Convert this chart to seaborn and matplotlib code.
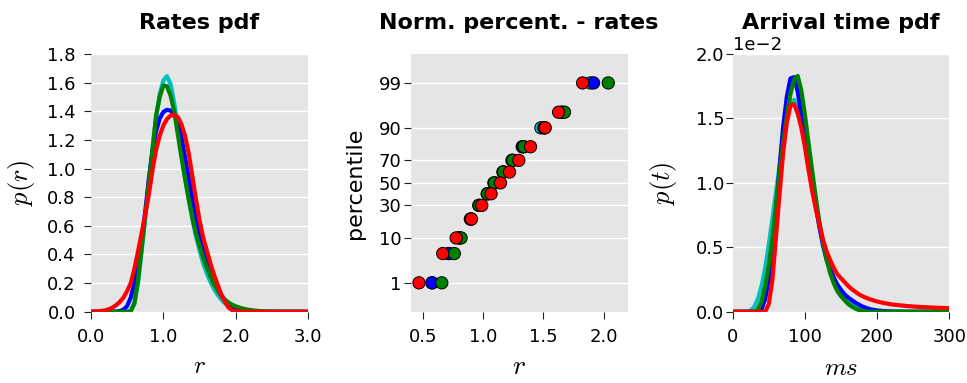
import numpy as np
import pandas as pd
import matplotlib
matplotlib.use('Agg')
import matplotlib.pyplot as plt
from matplotlib.ticker import FormatStrFormatter
import seaborn as sns
from statistics import NormalDist

# ---- data ----
series = ['c', 'b', 'g', 'r']
colors = {'c': '#00BFBF', 'b': '#0000FF', 'g': '#008000', 'r': '#FF0000'}

# rates pdf
r_grid = [0.0, 0.1, 0.2, 0.25, 0.3, 0.35, 0.4, 0.45, 0.5, 0.55, 0.6, 0.65, 0.7, 0.75,
          0.8, 0.85, 0.9, 0.95, 1.0, 1.05, 1.1, 1.15, 1.2, 1.25, 1.3, 1.35, 1.4, 1.45,
          1.5, 1.55, 1.6, 1.65, 1.7, 1.75, 1.8, 1.85, 1.9, 1.95, 2.0, 2.1, 2.2, 2.3,
          2.4, 2.5, 2.7, 3.0]
rate_c = [0, 0, 0, 0, 0, 0, 0, 0, 0, 0.005, 0.055, 0.2, 0.42, 0.66,
          0.9, 1.14, 1.36, 1.52, 1.615, 1.645, 1.59, 1.46, 1.29, 1.11, 0.94, 0.79, 0.65, 0.53,
          0.43, 0.34, 0.27, 0.21, 0.16, 0.12, 0.085, 0.06, 0.042, 0.03, 0.02, 0.01, 0.004, 0.001,
          0, 0, 0, 0]
rate_b = [0, 0, 0, 0, 0, 0.001, 0.005, 0.015, 0.04, 0.1, 0.2, 0.33, 0.49, 0.7,
          0.93, 1.12, 1.26, 1.35, 1.395, 1.41, 1.405, 1.375, 1.32, 1.22, 1.08, 0.94, 0.8, 0.67,
          0.55, 0.45, 0.37, 0.3, 0.24, 0.18, 0.12, 0.08, 0.05, 0.03, 0.018, 0.006, 0.001, 0,
          0, 0, 0, 0]
rate_g = [0, 0, 0, 0, 0, 0, 0, 0, 0, 0.005, 0.06, 0.22, 0.44, 0.67,
          0.9, 1.13, 1.37, 1.5, 1.58, 1.575, 1.51, 1.4, 1.24, 1.08, 0.93, 0.79, 0.66, 0.55,
          0.46, 0.38, 0.31, 0.25, 0.19, 0.15, 0.11, 0.085, 0.065, 0.05, 0.038, 0.022, 0.012, 0.006,
          0.003, 0.001, 0, 0]
rate_r = [0, 0.003, 0.01, 0.018, 0.03, 0.047, 0.07, 0.1, 0.145, 0.2, 0.3, 0.42, 0.55, 0.68,
          0.82, 0.99, 1.13, 1.23, 1.3, 1.345, 1.37, 1.375, 1.36, 1.31, 1.23, 1.11, 0.95, 0.79,
          0.64, 0.52, 0.43, 0.34, 0.26, 0.19, 0.12, 0.07, 0.03, 0.012, 0.004, 0.001, 0, 0,
          0, 0, 0, 0]

# normal percentiles of the rates
pct = [1, 5, 10, 20, 30, 40, 50, 60, 70, 80, 90, 95, 99]
pct_c = [0.58, 0.72, 0.80, 0.895, 0.965, 1.035, 1.09, 1.165, 1.24, 1.325, 1.48, 1.65, 1.89]
pct_b = [0.575, 0.713, 0.805, 0.90, 0.97, 1.04, 1.10, 1.17, 1.245, 1.33, 1.505, 1.66, 1.917]
pct_g = [0.658, 0.762, 0.818, 0.90, 0.968, 1.037, 1.095, 1.17, 1.247, 1.341, 1.51, 1.676, 2.039]
pct_r = [0.469, 0.666, 0.777, 0.904, 0.99, 1.067, 1.145, 1.22, 1.297, 1.394, 1.516, 1.627, 1.826]

# arrival time pdf
t_grid = [0, 10, 20, 25, 30, 35, 40, 45, 50, 55, 60, 65, 70, 75, 80, 85, 90, 95, 100,
          105, 110, 115, 120, 125, 130, 135, 140, 145, 150, 155, 160, 165, 170, 175,
          180, 185, 190, 195, 200, 210, 220, 240, 260, 280, 300]
time_c = [0, 0, 0, 0.0001, 0.0004, 0.001, 0.002, 0.0034, 0.0052, 0.0072, 0.0093, 0.0113, 0.0133,
          0.015, 0.0161, 0.01645, 0.0161, 0.0148, 0.0132, 0.0116, 0.01, 0.0083, 0.0067, 0.0052,
          0.004, 0.0031, 0.0024, 0.0018, 0.0014, 0.001, 0.00075, 0.00055, 0.0004, 0.00028,
          0.0002, 0.00013, 0.00008, 0.00005, 0.00003, 0.00001, 0, 0, 0, 0, 0]
time_b = [0, 0, 0, 0, 0, 0, 0.0002, 0.001, 0.0025, 0.0046, 0.0078, 0.0113, 0.0144,
          0.0167, 0.0181, 0.0182, 0.0171, 0.0153, 0.0135, 0.0118, 0.0102, 0.0083, 0.0066, 0.0052,
          0.0041, 0.0033, 0.00265, 0.0021, 0.0017, 0.00135, 0.0011, 0.0009, 0.0007, 0.00055,
          0.0004, 0.0003, 0.0002, 0.00015, 0.0001, 0.00005, 0.00002, 0, 0, 0, 0]
time_g = [0, 0, 0, 0, 0, 0.0002, 0.0008, 0.002, 0.0036, 0.0057, 0.0083, 0.0109, 0.0132,
          0.0152, 0.0169, 0.018, 0.0183, 0.0172, 0.0153, 0.0131, 0.011, 0.0089, 0.007, 0.0054,
          0.0041, 0.003, 0.0022, 0.0016, 0.0012, 0.0009, 0.0006, 0.0004, 0.00025, 0.00013,
          0.00006, 0.00002, 0, 0, 0, 0, 0, 0, 0, 0, 0]
time_r = [0, 0, 0, 0, 0, 0, 0, 0, 0.0006, 0.0025, 0.0058, 0.0092, 0.0124,
          0.0147, 0.016, 0.0161, 0.0154, 0.0143, 0.0128, 0.011, 0.0094, 0.008, 0.0068, 0.0056,
          0.0047, 0.004, 0.0034, 0.0029, 0.0026, 0.0023, 0.002, 0.00175, 0.00155, 0.00135,
          0.0012, 0.00108, 0.00097, 0.00088, 0.0008, 0.00067, 0.00057, 0.00045, 0.00037,
          0.00032, 0.00028]

rates = pd.DataFrame({'r': r_grid * 4,
                      'p': rate_c + rate_b + rate_g + rate_r,
                      's': [k for k in series for _ in r_grid]})
percs = pd.DataFrame({'x': pct_c + pct_b + pct_g + pct_r,
                      'y': pct * 4,
                      's': [k for k in series for _ in pct]})
times = pd.DataFrame({'t': t_grid * 4,
                      'p': time_c + time_b + time_g + time_r,
                      's': [k for k in series for _ in t_grid]})

# ---- style ----
sns.set_style('darkgrid')
plt.rcParams.update({
    'axes.facecolor': '#E5E5E5',
    'grid.color': 'white',
    'grid.linewidth': 1.0,
    'xtick.bottom': True,
    'ytick.left': True,
    'xtick.direction': 'out',
    'ytick.direction': 'out',
    'xtick.major.size': 5,
    'ytick.major.size': 5,
    'xtick.major.pad': 7,
    'xtick.color': '#222222',
    'ytick.color': '#222222',
    'xtick.labelcolor': 'black',
    'ytick.labelcolor': 'black',
    'xtick.labelsize': 13,
    'ytick.labelsize': 13,
    'axes.labelsize': 18,
    'axes.labelcolor': 'black',
    'text.color': 'black',
    'mathtext.fontset': 'cm',
})
plt.rcParams['font.family'] = ['DejaVu Sans']

fig = plt.figure(figsize=(9.67, 3.83), dpi=100)
ax1 = fig.add_axes([0.0941, 0.186, 0.2244, 0.673])
ax2 = fig.add_axes([0.4247, 0.186, 0.2244, 0.673])
ax3 = fig.add_axes([0.7577, 0.186, 0.2240, 0.673])

for ax in (ax1, ax2, ax3):
    for sp in ax.spines.values():
        sp.set_visible(False)
    ax.xaxis.grid(False)

title_kw = dict(fontsize=16, fontweight='bold', color='black', pad=18)

# rates pdf
sns.lineplot(data=rates, x='r', y='p', hue='s', hue_order=series, palette=colors,
             linewidth=3, legend=False, ax=ax1)
ax1.set_xlim(0, 3)
ax1.set_ylim(0, 1.8)
ax1.set_xticks([0, 1, 2, 3])
ax1.xaxis.set_major_formatter(FormatStrFormatter('%.1f'))
ax1.set_yticks(np.arange(0, 1.81, 0.2))
ax1.yaxis.set_major_formatter(FormatStrFormatter('%.1f'))
ax1.tick_params(axis='y', pad=6)
ax1.set_xlabel('$r$', labelpad=5.5)
ax1.set_ylabel('$p(r)$', fontsize=19, labelpad=7)
ax1.set_title('Rates pdf', **title_kw)

# normal-probability percentiles
_nd = NormalDist()


def to_z(p):
    p = np.clip(np.asarray(p, dtype=float), 1e-6, 100 - 1e-6)
    return np.vectorize(lambda v: _nd.inv_cdf(v / 100.0), otypes=[float])(p)


def from_z(z):
    z = np.asarray(z, dtype=float)
    return np.vectorize(lambda v: _nd.cdf(v) * 100.0, otypes=[float])(z)


ax2.set_yscale('function', functions=(to_z, from_z))
sns.scatterplot(data=percs, x='x', y='y', hue='s', hue_order=series, palette=colors,
                s=78, edgecolor='black', linewidth=0.7, legend=False, ax=ax2)
ax2.set_xlim(0.4, 2.2)
ax2.set_ylim(0.135, 99.865)
ax2.set_xticks([0.5, 1.0, 1.5, 2.0])
ax2.set_yticks([1, 10, 30, 50, 70, 90, 99])
ax2.set_yticklabels(['1', '10', '30', '50', '70', '90', '99'])
ax2.minorticks_off()
ax2.tick_params(axis='y', pad=1.5)
ax2.set_xlabel('$r$', fontsize=20, labelpad=4)
ax2.set_ylabel('percentile', fontsize=16, labelpad=10)
ax2.set_title('Norm. percent. - rates', **title_kw)

# arrival time pdf
sns.lineplot(data=times, x='t', y='p', hue='s', hue_order=series, palette=colors,
             linewidth=3, legend=False, ax=ax3)
ax3.set_xlim(0, 300)
ax3.set_ylim(0, 0.02)
ax3.set_xticks([0, 100, 200, 300])
ax3.set_yticks([0, 0.005, 0.01, 0.015, 0.02])
ax3.ticklabel_format(axis='y', style='sci', scilimits=(0, 0))
ax3.yaxis.get_offset_text().set_fontsize(13)
ax3.tick_params(axis='y', pad=1)
ax3.set_xlabel('$ms$', labelpad=7)
ax3.set_ylabel('$p(t)$', fontsize=19, labelpad=12)
ax3.set_title('Arrival time pdf', **title_kw)

fig.savefig('out.png', dpi=100)
